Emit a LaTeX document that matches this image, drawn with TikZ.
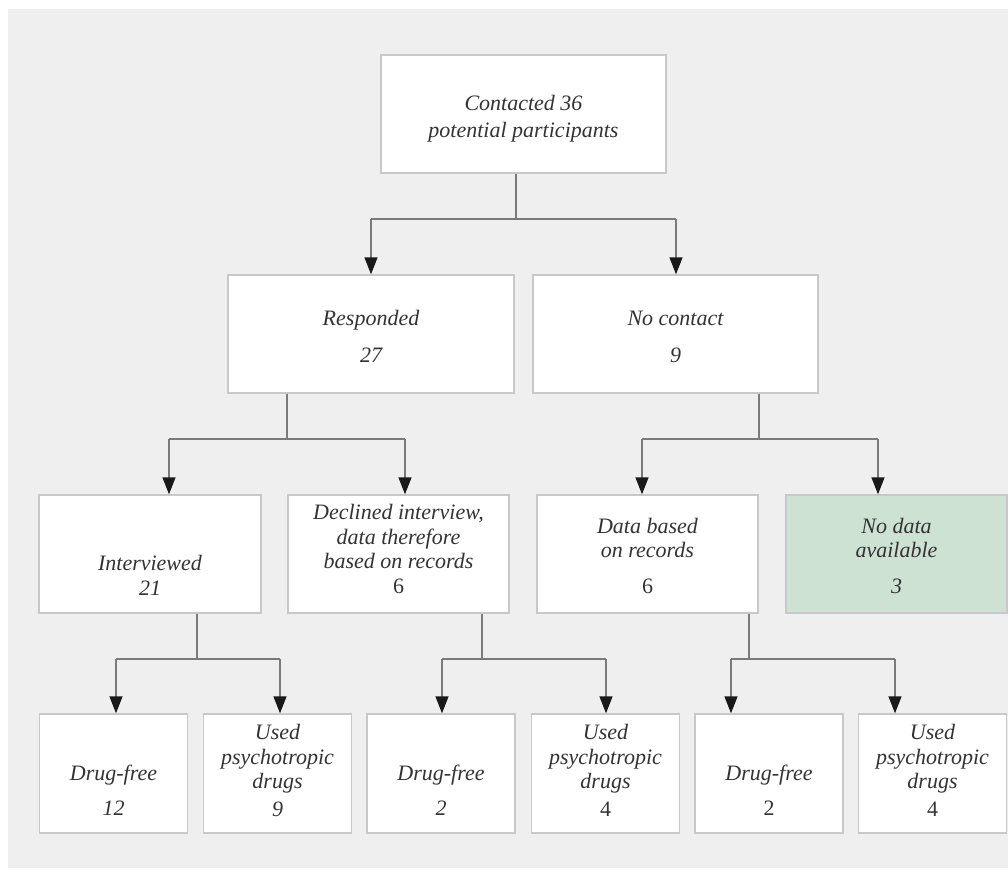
\documentclass[tikz,border=0pt]{standalone}
\usepackage{fontspec}
\setmainfont{Liberation Serif}
\usetikzlibrary{arrows.meta}

\definecolor{bggrey}{HTML}{EFEFEF}
\definecolor{boxline}{HTML}{C8C8C8}
\definecolor{linkgrey}{HTML}{7A7A7A}
\definecolor{nodatagreen}{HTML}{CEE2D3}
\definecolor{textgrey}{HTML}{333333}

\begin{document}
\begin{tikzpicture}[
  x=1pt, y=-1pt,
  box/.style={draw=boxline, fill=white, line width=1.4pt, align=center, inner sep=2pt,
    text=textgrey, font=\fontsize{22}{24.5}\selectfont\itshape},
  lastline/.code={\pgfmathsetmacro\fh{50+#1}\pgfmathsetmacro\fd{50-#1}%
    \edef\tmp{\noexpand\tikzset{text height=\fh pt, text depth=\fd pt}}\tmp},
  wide/.style={box, minimum width=285pt, minimum height=118pt},
  mid/.style={box, minimum width=221pt, minimum height=118pt},
  small/.style={box, minimum width=148pt, minimum height=119pt},
  link/.style={draw=linkgrey, line width=1.4pt},
  arr/.style={link, -{Triangle[width=13pt, length=17pt, color=black!90]}}
]
  % Grauer Hintergrund
  \useasboundingbox (0,0) rectangle (1008,870);
  \fill[bggrey] (8,9) rectangle (1008,868);

  % Ebene 1
  \node[wide, lastline=23] (contacted) at (523.5,114) {Contacted 36\\[2.5pt]potential participants};

  % Ebene 2
  \node[wide, lastline=28, minimum width=286pt] (responded) at (371,334) {Responded\\[12.5pt]27};
  \node[wide, lastline=28] (nocontact) at (675.5,334) {No contact\\[12.5pt]9};

  % Ebene 3
  \node[mid, lastline=41, minimum width=222pt] (interviewed) at (150,554) {Interviewed\\21};
  \node[mid, lastline=39] (declined) at (398.5,554) {Declined interview,\\data therefore\\based on records\\\upshape 6};
  \node[mid, lastline=39] (records) at (647.5,554) {Data based\\on records\\[11pt]\upshape 6};
  \node[mid, lastline=39, fill=nodatagreen] (nodata) at (896.5,554) {No data\\available\\[11pt]3};

  % Ebene 4
  \node[small, lastline=41.5] (free1) at (113.5,773.5) {Drug-free\\[10.5pt]12};
  \node[small, lastline=42.5] (used1) at (277.5,773.5) {Used\\psychotropic\\drugs\\[3pt]9};
  \node[small, lastline=41.5] (free2) at (441,773.5) {Drug-free\\[10.5pt]2};
  \node[small, lastline=42.5] (used2) at (605.5,773.5) {Used\\psychotropic\\drugs\\[3pt]\upshape 4};
  \node[small, lastline=41.5] (free3) at (769,773.5) {Drug-free\\[10.5pt]\upshape 2};
  \node[small, lastline=42.5] (used3) at (932.5,773.5) {Used\\psychotropic\\drugs\\[3pt]\upshape 4};

  % Verzweigungspunkte
  \coordinate (j1) at (516,219);
  \coordinate (j1l) at (371,219);
  \coordinate (j1r) at (676,219);
  \coordinate (j2) at (287,439);
  \coordinate (j2l) at (169,439);
  \coordinate (j2r) at (405,439);
  \coordinate (j3) at (759,439);
  \coordinate (j3l) at (642,439);
  \coordinate (j3r) at (878,439);
  \coordinate (j4) at (197,659);
  \coordinate (j4l) at (116,659);
  \coordinate (j4r) at (280,659);
  \coordinate (j5) at (482,659);
  \coordinate (j5l) at (442,659);
  \coordinate (j5r) at (606,659);
  \coordinate (j6) at (749,659);
  \coordinate (j6l) at (731,659);
  \coordinate (j6r) at (895,659);

  % Kontaktiert -> Antwort / kein Kontakt
  \draw[link] (contacted.south -| j1) -- (j1);
  \draw[link] (j1l) -- (j1r);
  \draw[arr] (j1l) -- (j1l |- responded.north);
  \draw[arr] (j1r) -- (j1r |- nocontact.north);

  % Antwort -> Interview / abgelehnt
  \draw[link] (responded.south -| j2) -- (j2);
  \draw[link] (j2l) -- (j2r);
  \draw[arr] (j2l) -- (j2l |- interviewed.north);
  \draw[arr] (j2r) -- (j2r |- declined.north);

  % kein Kontakt -> Akten / keine Daten
  \draw[link] (nocontact.south -| j3) -- (j3);
  \draw[link] (j3l) -- (j3r);
  \draw[arr] (j3l) -- (j3l |- records.north);
  \draw[arr] (j3r) -- (j3r |- nodata.north);

  % Ebene 3 -> Ebene 4
  \draw[link] (interviewed.south -| j4) -- (j4);
  \draw[link] (j4l) -- (j4r);
  \draw[arr] (j4l) -- (j4l |- free1.north);
  \draw[arr] (j4r) -- (j4r |- used1.north);

  \draw[link] (declined.south -| j5) -- (j5);
  \draw[link] (j5l) -- (j5r);
  \draw[arr] (j5l) -- (j5l |- free2.north);
  \draw[arr] (j5r) -- (j5r |- used2.north);

  \draw[link] (records.south -| j6) -- (j6);
  \draw[link] (j6l) -- (j6r);
  \draw[arr] (j6l) -- (j6l |- free3.north);
  \draw[arr] (j6r) -- (j6r |- used3.north);
\end{tikzpicture}
\end{document}
